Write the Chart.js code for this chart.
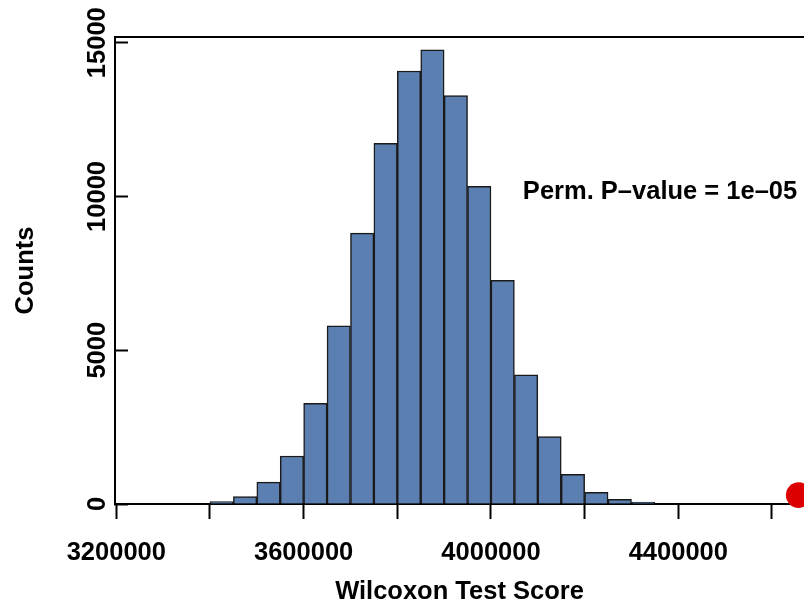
<!DOCTYPE html>
<html lang="en">
<head>
    <meta charset="UTF-8">
    <title>Wilcoxon Test Score permutations</title>
    <script src="https://cdn.jsdelivr.net/npm/chart.js"></script>
    <style>
        body {
            margin: 0;
            padding: 0;
            background: white;
        }
        .chart-container {
            position: relative;
            width: 804px;
            height: 607px;
        }
    </style>
</head>
<body>
    <div class="chart-container">
        <canvas id="histChart"></canvas>
    </div>

    <script>
        // histogram bins (centre of each 50000-wide bin) and counts
        const binCenters = [3425000, 3475000, 3525000, 3575000, 3625000, 3675000, 3725000, 3775000,
                            3825000, 3875000, 3925000, 3975000, 4025000, 4075000, 4125000, 4175000,
                            4225000, 4275000, 4325000];
        const binCounts = [75, 240, 710, 1560, 3270, 5790, 8810, 11730,
                           14080, 14770, 13280, 10330, 7270, 4200, 2190, 965,
                           380, 150, 65];

        // observed score (red dot)
        const observedScore = [4657000];
        const observedY = [290];

        const xTickValues = [3200000, 3400000, 3600000, 3800000, 4000000, 4200000, 4400000, 4600000];
        const xTickLabels = ['3200000', '', '3600000', '', '4000000', '', '4400000', ''];
        const yTickValues = [0, 5000, 10000, 15000];
        const yTickLabels = ['0', '5000', '10000', '15000'];

        const annotationText = 'Perm. P\u2013value = 1e\u201305';
        const annotationX = 4361000;
        const annotationY = 10150;

        const FONT = "'Liberation Sans', Arial, Helvetica, sans-serif";

        const annotationPlugin = {
            id: 'pvalueText',
            afterDraw(chart) {
                const ctx = chart.ctx;
                const px = chart.scales.x.getPixelForValue(annotationX);
                const py = chart.scales.y.getPixelForValue(annotationY);
                ctx.save();
                ctx.font = 'bold 25.5px ' + FONT;
                ctx.fillStyle = '#000';
                ctx.textAlign = 'center';
                ctx.textBaseline = 'middle';
                ctx.fillText(annotationText, px, py);
                ctx.restore();
            }
        };

        const ctx = document.getElementById('histChart').getContext('2d');
        const histChart = new Chart(ctx, {
            type: 'bar',
            data: {
                datasets: [{
                    type: 'scatter',
                    data: observedScore.map((v, i) => ({ x: v, y: observedY[i] })),
                    pointRadius: 12.8,
                    pointBackgroundColor: '#dc0000',
                    pointBorderWidth: 0,
                    clip: false,
                    order: 0
                }, {
                    data: binCenters.map((v, i) => ({ x: v, y: binCounts[i] })),
                    backgroundColor: '#5b7fb0',
                    borderColor: '#1a1a1a',
                    borderWidth: 1.5,
                    barPercentage: 1,
                    categoryPercentage: 1,
                    order: 1
                }]
            },
            options: {
                responsive: true,
                maintainAspectRatio: false,
                animation: false,
                layout: { padding: 0, autoPadding: false },
                plugins: {
                    legend: { display: false },
                    tooltip: { enabled: false }
                },
                scales: {
                    x: {
                        type: 'linear',
                        position: 'bottom',
                        offset: false,
                        min: 3197200,
                        max: 4668400,
                        afterBuildTicks: (scale) => {
                            scale.ticks = xTickValues.map(v => ({ value: v }));
                        },
                        afterFit: (scale) => { scale.height = 103; },
                        ticks: {
                            autoSkip: false,
                            maxRotation: 0,
                            padding: 19,
                            color: '#000',
                            font: { family: FONT, size: 25.5, weight: 'bold' },
                            callback: (value, index) => xTickLabels[index]
                        },
                        grid: {
                            display: true,
                            offset: false,
                            drawOnChartArea: false,
                            drawTicks: true,
                            tickLength: 15,
                            tickWidth: 2,
                            tickColor: '#000'
                        },
                        border: { display: true, color: '#000', width: 2 },
                        title: {
                            display: true,
                            text: 'Wilcoxon Test Score',
                            color: '#000',
                            padding: { top: 0, bottom: 0 },
                            font: { family: FONT, size: 25.5, weight: 'bold' }
                        }
                    },
                    xTop: {
                        type: 'linear',
                        position: 'top',
                        offset: false,
                        min: 3197200,
                        max: 4668400,
                        afterFit: (scale) => { scale.height = 37; },
                        ticks: { display: false },
                        grid: { display: false, drawTicks: false },
                        border: { display: true, color: '#000', width: 2 }
                    },
                    y: {
                        type: 'linear',
                        position: 'left',
                        min: 0,
                        max: 15185,
                        afterBuildTicks: (scale) => {
                            scale.ticks = yTickValues.map(v => ({ value: v }));
                        },
                        afterFit: (scale) => { scale.width = 115; },
                        ticks: {
                            minRotation: 90,
                            maxRotation: 90,
                            crossAlign: 'center',
                            padding: -5.5,
                            color: '#000',
                            font: { family: FONT, size: 25.5, weight: 'bold' },
                            callback: (value, index) => yTickLabels[index]
                        },
                        grid: {
                            display: true,
                            drawOnChartArea: false,
                            drawTicks: true,
                            tickLength: -13,
                            tickWidth: 2,
                            tickColor: '#000'
                        },
                        border: { display: true, color: '#000', width: 2 },
                        title: {
                            display: true,
                            text: 'Counts',
                            color: '#000',
                            padding: { top: 11, bottom: 0 },
                            font: { family: FONT, size: 25.5, weight: 'bold' }
                        }
                    }
                }
            },
            plugins: [annotationPlugin]
        });
    </script>
</body>
</html>
